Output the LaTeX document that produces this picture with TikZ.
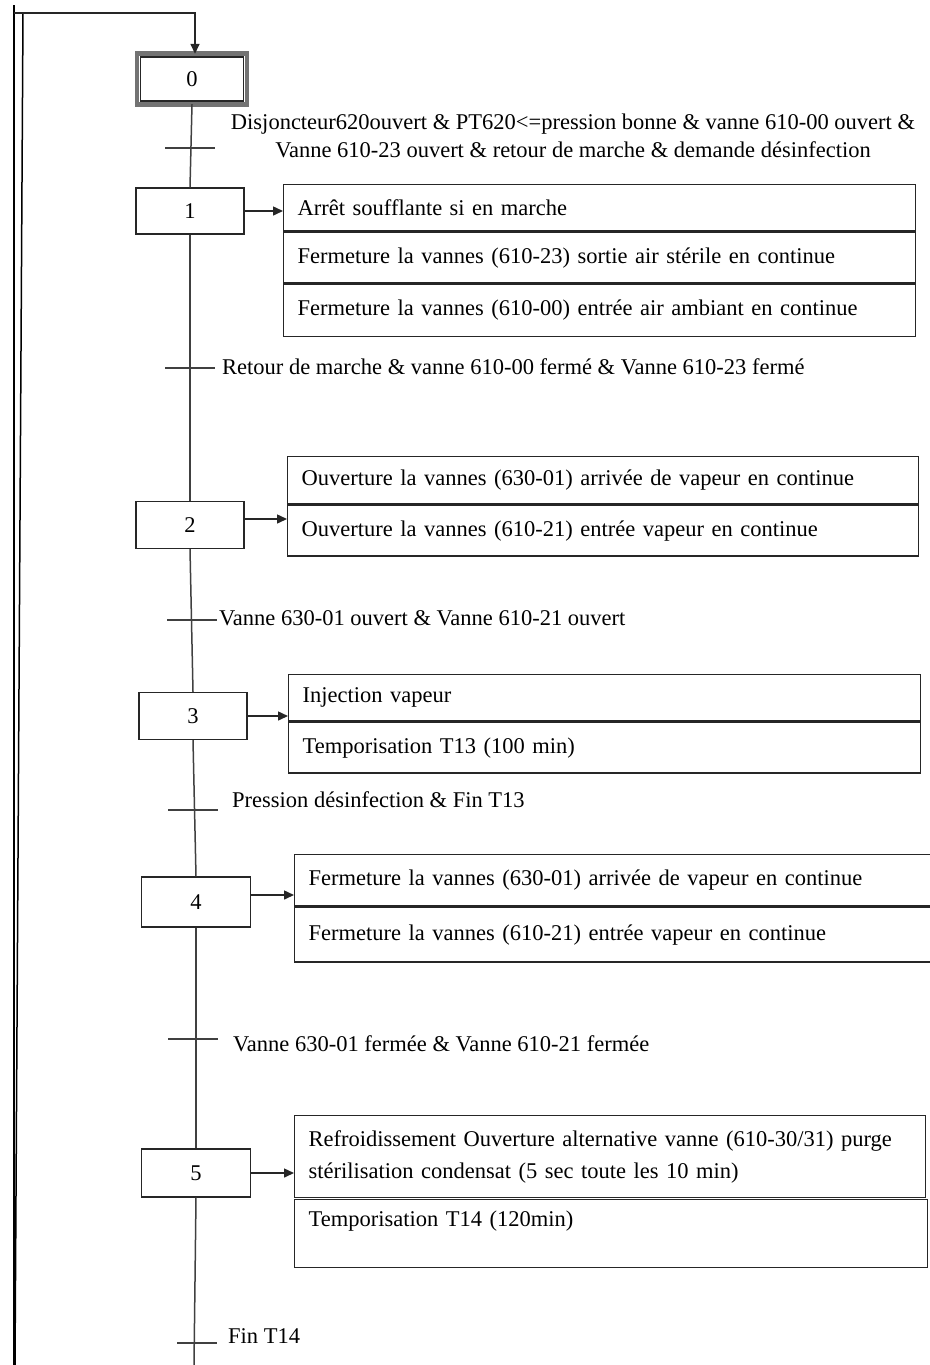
\documentclass[tikz,border=0pt]{standalone}
\usepackage{fontspec}
\setmainfont{Liberation Serif}
\usetikzlibrary{arrows.meta,calc}

\begin{document}
\begin{tikzpicture}[x=1pt,y=1pt,
  every node/.style={font=\fontsize{22.5}{28}\selectfont, inner sep=0pt},
  stepbox/.style={draw, line width=1.4pt, black!85, text=black, minimum width=108pt, minimum height=47pt},
  actrow/.style={draw, line width=1.4pt, black!85, text=black, anchor=north west, inner xsep=14pt,
                 text width=604pt, align=left, minimum height=#1},
  link/.style={line width=1.5pt, black!75},
  act/.style={line width=1.5pt, black!85, -{Triangle[length=10pt,width=9pt]}},
  tick/.style={line width=1.5pt, black!75},
  cond/.style={anchor=west}
]
\useasboundingbox (0,0) rectangle (929,-1365);

% ---- steps ----
\node[stepbox, minimum width=103pt, minimum height=44pt] (s0) at (192,-79) {0};
\draw[line width=4.5pt, black!55]
  ([shift={(-2.6,2.6)}]s0.north west) rectangle ([shift={(2.6,-2.6)}]s0.south east);
\node[stepbox, minimum height=46pt] (s1) at (190,-211) {1};
\node[stepbox, minimum height=47pt] (s2) at (190,-525) {2};
\node[stepbox, minimum height=47pt] (s3) at (193,-716) {3};
\node[stepbox, minimum width=109pt, minimum height=50pt] (s4) at (196,-902) {4};
\node[stepbox, minimum width=109pt, minimum height=48pt] (s5) at (196,-1173) {5};

% ---- return loop on the left ----
\coordinate (loopTop) at (14,-5);
\coordinate (loopBot) at (14,-1365);
\coordinate (innerTop) at (23,-13);
\coordinate (innerBot) at (15,-1365);
\coordinate (loopCorner) at (14,-13);
\coordinate (entry) at ($(s0.north)+(3,0)$);
\draw[link, black] (loopTop) -- (loopBot);
\draw[link, black] (innerTop) -- (innerBot);
\draw[act] (loopCorner) -- (loopCorner -| entry) -- ([yshift=2.5pt]entry);

% ---- main sequence line ----
\coordinate (bottom) at (194,-1365);
\draw[link] ([yshift=-2.5pt]s0.south) -- (s1.north);
\draw[link] (s1.south) -- (s2.north);
\draw[link] (s2.south) -- (s3.north);
\draw[link] (s3.south) -- (s4.north);
\draw[link] (s4.south) -- (s5.north);
\draw[link] (s5.south) -- (bottom);

% ---- transitions ----
\coordinate (t01) at (190,-148);
\coordinate (t12) at (190,-368);
\coordinate (t23) at (192,-620);
\coordinate (t34) at (193,-810);
\coordinate (t45) at (193,-1039);
\coordinate (t5e) at (194,-1343);
\foreach \t in {t01,t12,t23,t34,t45} {
  \draw[tick] ([xshift=-25pt]\t) -- ([xshift=25pt]\t);
}
\draw[tick] ([xshift=-17pt]t5e) -- ([xshift=23pt]t5e);

\node[align=center] (c01) at (573,-136)
  {Disjoncteur620ouvert \& PT620<=pression bonne \& vanne 610-00 ouvert \&\\
   Vanne 610-23 ouvert \& retour de marche \& demande désinfection};
\node[cond] (c12) at (222,-367) {Retour de marche \& vanne 610-00 fermé \& Vanne 610-23 fermé};
\node[cond] (c23) at (219,-618) {Vanne 630-01 ouvert \& Vanne 610-21 ouvert};
\node[cond] (c34) at (232,-800) {Pression désinfection \& Fin T13};
\node[cond] (c45) at (233,-1044) {Vanne 630-01 fermée \& Vanne 610-21 fermée};
\node[cond] (c5e) at (228,-1336) {Fin T14};

% ---- actions of step 1 ----
\node[actrow=46pt] (a1a) at (283,-184) {Arrêt soufflante si en marche};
\node[actrow=51pt] (a1b) at (a1a.south west) {Fermeture la vannes (610-23) sortie air stérile en continue};
\node[actrow=52pt] (a1c) at (a1b.south west) {Fermeture la vannes (610-00) entrée air ambiant en continue};
\draw[act] (s1.east) -- (s1.east -| a1a.west);

% ---- actions of step 2 ----
\node[actrow=47pt, text width=603pt] (a2a) at (287,-456) {Ouverture la vannes (630-01) arrivée de vapeur en continue};
\node[actrow=51pt, text width=603pt] (a2b) at (a2a.south west) {Ouverture la vannes (610-21) entrée vapeur en continue};
\draw[act] ([yshift=6pt]s2.east) -- ([yshift=6pt]s2.east -| a2a.west);

% ---- actions of step 3 ----
\node[actrow=46pt] (a3a) at (288,-674) {Injection vapeur};
\node[actrow=51pt] (a3b) at (a3a.south west) {Temporisation T13 (100 min)};
\draw[act] (s3.east) -- (s3.east -| a3a.west);

% ---- actions of step 4 ----
\node[actrow=51pt, text width=612pt] (a4a) at (294,-854) {Fermeture la vannes (630-01) arrivée de vapeur en continue};
\node[actrow=55pt, text width=612pt] (a4b) at (a4a.south west) {Fermeture la vannes (610-21) entrée vapeur en continue};
\draw[act] ([yshift=7pt]s4.east) -- ([yshift=7pt]s4.east -| a4a.west);

% ---- actions of step 5 ----
\node[actrow=82pt, text width=603pt] (a5a) at (294,-1115)
  {Refroidissement Ouverture alternative vanne (610-30/31) purge\\[4pt]
   stérilisation condensat (5 sec toute les 10 min)};
\node[actrow=68pt, text width=605pt] (a5b) at (294,-1199) {Temporisation T14 (120min)\\[-6pt]\strut};
\draw[act] (s5.east) -- (s5.east -| a5a.west);

\end{tikzpicture}
\end{document}
